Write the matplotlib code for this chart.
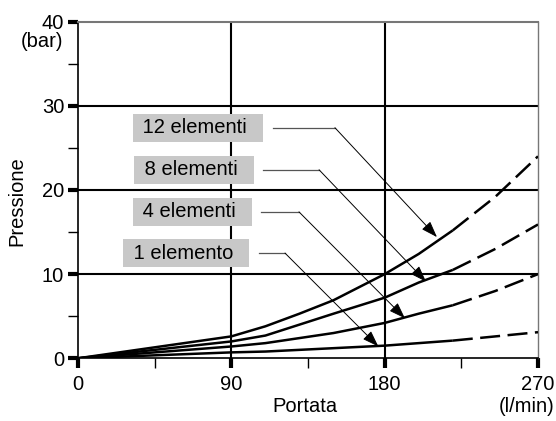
import numpy as np
import matplotlib.pyplot as plt
from matplotlib.ticker import MultipleLocator

plt.rcParams['font.family'] = ['Liberation Sans', 'DejaVu Sans']

# data
flow = [0, 90, 110, 130, 150, 180, 200, 220, 245, 270]
p12 = [0, 2.6, 3.8, 5.3, 6.9, 10.0, 12.4, 15.2, 19.2, 24.0]
p8 = [0, 2.0, 2.7, 4.0, 5.3, 7.2, 9.0, 10.5, 13.0, 15.9]
p4 = [0, 1.4, 1.8, 2.4, 3.0, 4.2, 5.3, 6.3, 8.0, 10.0]
p1 = [0, 0.7, 0.8, 1.0, 1.2, 1.5, 1.8, 2.1, 2.6, 3.1]
labels = ['12 elementi', '8 elementi', '4 elementi', '1 elemento']
xticks = [0, 90, 180, 270]
yticks = [0, 10, 20, 30, 40]

# label box centre, leader corner, arrow tip (data coords)
label_pos = [(70.4, 27.4), (68.1, 22.4), (67.2, 17.4), (63.4, 12.5)]
corner_pos = [(150.8, 27.4), (141.5, 22.4), (129.7, 17.4), (121.5, 12.5)]
tip_pos = [(210.7, 14.4), (204.3, 9.1), (191.9, 4.75), (176.3, 1.4)]

fs = 14.5
fig = plt.figure(figsize=(5.56, 4.21), dpi=100)
ax = fig.add_axes([0.1403, 0.149, 0.8273, 0.7995])

split = flow.index(220)
for p in [p12, p8, p4, p1]:
    ax.plot(flow[:split+1], p[:split+1], color='black', lw=1.8,
            solid_capstyle='butt', zorder=3)
    ax.plot(flow[split:], p[split:], color='black', lw=1.8,
            dashes=(8, 3), zorder=3)

for x in [90, 180]:
    ax.axvline(x, color='black', lw=1.5, zorder=2)
for y in [10, 20, 30]:
    ax.axhline(y, color='black', lw=1.5, zorder=2)

for lab, lp, cp, tp in zip(labels, label_pos, corner_pos, tip_pos):
    t = ax.text(lp[0], lp[1], ' ' + lab + '  ', ha='center', va='center',
                fontsize=fs, zorder=5,
                bbox=dict(boxstyle='square,pad=0.23', fc='#c8c8c8', ec='none'))
    fig.canvas.draw()
    bb = t.get_bbox_patch().get_window_extent()
    x_right = ax.transData.inverted().transform((bb.x1 + 3, 0))[0]
    ax.plot([x_right, cp[0]], [cp[1], cp[1]], color='#555555', lw=0.9, zorder=4)
    ax.annotate('', xy=tp, xytext=cp, zorder=4,
                arrowprops=dict(arrowstyle='-|>,head_length=1.0,head_width=0.35',
                                color='black', lw=0.7, shrinkA=0, shrinkB=0))

ax.set_xlim(0, 270)
ax.set_ylim(0, 40)
ax.set_xticks(xticks)
ax.set_yticks(yticks)
ax.xaxis.set_minor_locator(MultipleLocator(45))
ax.yaxis.set_minor_locator(MultipleLocator(5))
ax.tick_params(which='major', direction='out', length=7, width=3,
               labelsize=fs, pad=3)
ax.tick_params(axis='x', which='major', pad=5)
ax.tick_params(which='minor', direction='out', length=7, width=1)
ax.spines['top'].set_color('#777777')
ax.spines['top'].set_linewidth(1.5)
ax.spines['right'].set_color('#777777')
ax.spines['right'].set_linewidth(1)
ax.spines['left'].set_linewidth(1.2)
ax.spines['bottom'].set_linewidth(1.2)

fig.text(305 / 556, 1 - 407 / 421, 'Portata', ha='center', va='center', fontsize=fs)
fig.text(17 / 556, 1 - 201 / 421, 'Pressione', ha='center', va='center',
         rotation=90, fontsize=fs)
fig.text(555 / 556, 1 - 407 / 421, '(l/min)', ha='right', va='center', fontsize=fs)
fig.text(42.5 / 556, 1 - 41.5 / 421, '(bar)', ha='center', va='center', fontsize=fs)

fig.savefig('out.png', dpi=100)
